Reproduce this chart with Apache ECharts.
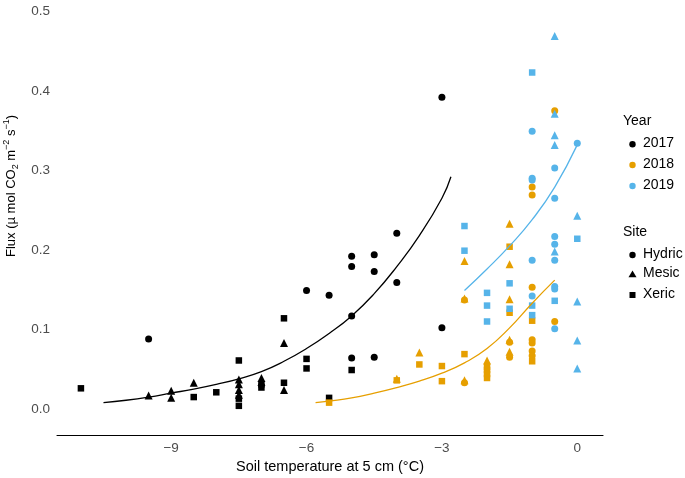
<!DOCTYPE html>
<html>
<head>
<meta charset="utf-8">
<script src="https://cdn.jsdelivr.net/npm/echarts@6/dist/echarts.min.js"></script>
<style>
html,body{margin:0;padding:0;background:#fff;}
#chart{width:685px;height:478px;}
</style>
</head>
<body>
<div id="chart"></div>
<script>
// ---- data: [soil temperature (°C), flux] ----
const hydric2017 = [[-9.5,0.088],[-6,0.149],[-5.5,0.143],[-5,0.192],[-5,0.179],[-5,0.117],[-5,0.064],[-4.5,0.194],[-4.5,0.173],[-4.5,0.065],[-4,0.221],[-4,0.159],[-3,0.392],[-3,0.102]];
const mesic2017 = [[-9.5,0.017],[-9,0.023],[-9,0.014],[-8.5,0.033],[-7.5,0.037],[-7.5,0.031],[-7.5,0.024],[-7.5,0.018],[-7,0.039],[-7,0.034],[-6.5,0.083],[-6.5,0.024]];
const xeric2017 = [[-11,0.026],[-8.5,0.015],[-8,0.021],[-7.5,0.061],[-7.5,0.013],[-7.5,0.004],[-7,0.031],[-7,0.027],[-6.5,0.114],[-6.5,0.033],[-6,0.063],[-6,0.051],[-5.5,0.014],[-5,0.049]];

const hydric2018 = [[-2.5,0.137],[-2.5,0.033],[-1.5,0.084],[-1.5,0.065],[-1,0.279],[-1,0.269],[-1,0.153],[-1,0.087],[-1,0.083],[-1,0.073],[-1,0.067],[-0.5,0.375],[-0.5,0.110]];
const mesic2018 = [[-4,0.038],[-3.5,0.071],[-2.5,0.186],[-2.5,0.139],[-2.5,0.036],[-2,0.061],[-1.5,0.233],[-1.5,0.182],[-1.5,0.138],[-1.5,0.087],[-1.5,0.072]];
const xeric2018 = [[-5.5,0.008],[-4,0.036],[-3.5,0.056],[-3,0.054],[-3,0.035],[-2.5,0.069],[-2,0.053],[-2,0.049],[-2,0.044],[-2,0.039],[-1.5,0.204],[-1.5,0.121],[-1,0.111],[-1,0.060]];

const hydric2019 = [[-1,0.349],[-1,0.290],[-1,0.288],[-1,0.187],[-1,0.142],[-0.5,0.303],[-0.5,0.265],[-0.5,0.217],[-0.5,0.207],[-0.5,0.187],[-0.5,0.154],[-0.5,0.151],[-0.5,0.101],[0,0.334]];
const mesic2019 = [[-0.5,0.469],[-0.5,0.371],[-0.5,0.344],[-0.5,0.332],[-0.5,0.198],[0,0.243],[0,0.135],[0,0.086],[0,0.051]];
const xeric2019 = [[-2.5,0.230],[-2.5,0.199],[-2,0.146],[-2,0.130],[-2,0.110],[-1.5,0.158],[-1.5,0.126],[-1,0.423],[-1,0.130],[-1,0.118],[-0.5,0.136],[0,0.214]];

// fitted curves
const fit2017 = [[-10.5,0.008],[-10,0.011],[-9.5,0.015],[-9,0.020],[-8.5,0.025],[-8,0.031],[-7.5,0.038],[-7,0.047],[-6.5,0.060],[-6,0.076],[-5.5,0.095],[-5,0.117],[-4.5,0.145],[-4,0.179],[-3.5,0.218],[-3,0.265],[-2.8,0.292]];
const fit2018 = [[-5.8,0.008],[-5.5,0.010],[-5,0.014],[-4.5,0.020],[-4,0.027],[-3.5,0.035],[-3,0.045],[-2.5,0.058],[-2,0.076],[-1.5,0.102],[-1,0.133],[-0.5,0.162]];
const fit2019 = [[-2.5,0.149],[-2,0.176],[-1.5,0.205],[-1,0.238],[-0.5,0.279],[0,0.332]];

const xTicks = [-9,-6,-3,0];
const yTicks = [0,0.1,0.2,0.3,0.4,0.5];
const yearNames = ['2017','2018','2019'];
const siteNames = ['Hydric','Mesic','Xeric'];

const yearColors = ['#000000','#E69F00','#56B4E9'];
const siteSymbols = ['circle','triangle','rect'];
const siteSizes = [7,8,6.5];

const groups = [
  [hydric2017, mesic2017, xeric2017],
  [hydric2018, mesic2018, xeric2018],
  [hydric2019, mesic2019, xeric2019]
];
const fits = [fit2017, fit2018, fit2019];

const series = [];
groups.forEach((g, yi) => {
  g.forEach((d, si) => {
    series.push({
      type: 'scatter', name: yearNames[yi] + ' ' + siteNames[si], data: d,
      symbol: siteSymbols[si], symbolSize: siteSizes[si],
      itemStyle: {color: yearColors[yi], opacity: 1},
      emphasis: {disabled: true}, z: 2 + yi * 0.1
    });
  });
});
fits.forEach((d, yi) => {
  series.push({
    type: 'line', data: d, smooth: 0.5, showSymbol: false, symbol: 'none',
    lineStyle: {color: yearColors[yi], width: 1.3}, z: 3
  });
});

const FONT = 'Liberation Sans, Arial, Helvetica, sans-serif';
const chart = echarts.init(document.getElementById('chart'), null, {renderer: 'canvas'});

const legendX = 623, markX = 632.5, textX = 643;
const graphic = [
  {type:'text', left: legendX, top: 121.7 - 8, style:{text:'Year', font:'14px ' + FONT, fill:'#000'}},
  {type:'text', left: legendX, top: 233.3 - 8, style:{text:'Site', font:'14px ' + FONT, fill:'#000'}},
  {
    type:'text', x: 11, y: 186, rotation: Math.PI / 2,
    style:{
      text:'{a|Flux (\u00b5 mol CO}{b|2}{a| m}{c|\u22122}{a| s}{c|\u22121}{a|)}',
      x: 0, y: 0, align:'center', verticalAlign:'middle',
      rich:{
        a:{fontFamily: FONT, fontSize: 13, fill:'#000', lineHeight: 18, verticalAlign:'middle'},
        b:{fontFamily: FONT, fontSize: 9, fill:'#000', lineHeight: 8, verticalAlign:'bottom'},
        c:{fontFamily: FONT, fontSize: 9, fill:'#000', lineHeight: 8, verticalAlign:'top'}
      }
    }
  }
];
const yearY = [144.3, 165, 186];
yearNames.forEach((n, i) => {
  graphic.push({type:'circle', shape:{cx: markX, cy: yearY[i], r: 3.2}, style:{fill: yearColors[i]}});
  graphic.push({type:'text', left: textX, top: yearY[i] - 8, style:{text: n, font:'14px ' + FONT, fill:'#000'}});
});
const siteY = [255, 274.3, 295];
graphic.push({type:'circle', shape:{cx: markX, cy: siteY[0], r: 3.2}, style:{fill:'#000'}});
graphic.push({type:'polygon', shape:{points:[[markX, siteY[1]-3.8],[markX-4, siteY[1]+3],[markX+4, siteY[1]+3]]}, style:{fill:'#000'}});
graphic.push({type:'rect', shape:{x: markX-3, y: siteY[2]-3, width:6, height:6}, style:{fill:'#000'}});
siteNames.forEach((n, i) => {
  graphic.push({type:'text', left: textX, top: siteY[i] - 8, style:{text: n, font:'14px ' + FONT, fill:'#000'}});
});

chart.setOption({
  animation: false,
  backgroundColor: '#fff',
  grid: {left: 57, right: 82, top: 0, bottom: 43, containLabel: false, outerBoundsMode: 'none'},
  xAxis: {
    type: 'value', min: -11.53, max: 0.57,
    name: 'Soil temperature at 5 cm (\u00b0C)', nameLocation: 'middle', nameGap: 24,
    nameTextStyle: {fontFamily: FONT, fontSize: 14.5, color: '#000'},
    axisLine: {show: true, onZero: false, lineStyle: {color: '#000', width: 1.1}},
    axisTick: {show: false},
    splitLine: {show: false},
    axisLabel: {
      customValues: xTicks, margin: 6, fontFamily: FONT, fontSize: 13.5, color: '#4d4d4d',
      formatter: v => v < 0 ? '\u2212' + Math.abs(v) : String(v)
    }
  },
  yAxis: {
    type: 'value', min: -0.03268, max: 0.51414,
    axisLine: {show: false},
    axisTick: {show: false},
    splitLine: {show: false},
    axisLabel: {
      customValues: yTicks, margin: 7, fontFamily: FONT, fontSize: 13.5, color: '#4d4d4d',
      formatter: v => v.toFixed(1)
    }
  },
  graphic: graphic,
  series: series
});
</script>
</body>
</html>
